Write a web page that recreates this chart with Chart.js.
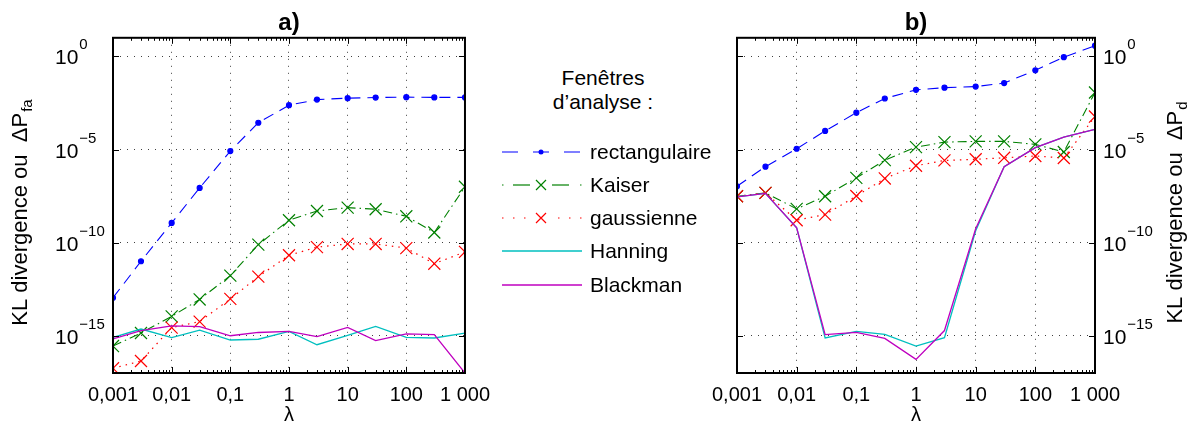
<!DOCTYPE html>
<html>
<head>
<meta charset="utf-8">
<title>KL divergence</title>
<script src="https://cdn.jsdelivr.net/npm/chart.js@4.4.0/dist/chart.umd.min.js"></script>
<style>
  body { margin: 0; background: #fff; width: 1197px; height: 434px; position: relative; overflow: hidden;
         font-family: "Liberation Sans", Arial, Helvetica, sans-serif; color: #000; }
  .pane { position: absolute; top: 0; height: 434px; }
  #paneA { left: 0; width: 500px; }
  #paneB { left: 690px; width: 507px; }
  .hd { position: absolute; left: 603px; transform: translate(-50%, -50%); white-space: nowrap; font-size: 21px; }
  .row { position: absolute; left: 500px; transform: translateY(-50%); display: flex; align-items: center;
         white-space: nowrap; font-size: 21px; }
  .row svg { display: block; margin-right: 6px; }
</style>
</head>
<body>
<div class="pane" id="paneA"><canvas id="chartA"></canvas></div>
<div class="pane" id="paneB"><canvas id="chartB"></canvas></div>

<div class="hd" style="top:78px">Fenêtres</div>
<div class="hd" style="top:102px">d’analyse :</div>
<div class="row" style="top:152px">
  <svg width="84" height="16"><line x1="2" y1="8" x2="82" y2="8" stroke="#0000ff" stroke-width="1.2" stroke-dasharray="16 15"/><circle cx="41" cy="8" r="2.5" fill="#0000ff"/></svg>
  <span>rectangulaire</span>
</div>
<div class="row" style="top:185px">
  <svg width="84" height="16"><g stroke="#008000" stroke-width="1.2"><line x1="2" y1="8" x2="3.5" y2="8"/><line x1="13" y1="8" x2="30" y2="8"/><line x1="52" y1="8" x2="69" y2="8"/><line x1="80" y1="8" x2="81.5" y2="8"/><path d="M36 3 L46 13 M46 3 L36 13" fill="none"/></g></svg>
  <span>Kaiser</span>
</div>
<div class="row" style="top:218px">
  <svg width="84" height="16"><g stroke="#ff0000" stroke-width="1.2"><line x1="2" y1="8" x2="30" y2="8" stroke-dasharray="1.5 9.5"/><line x1="58" y1="8" x2="82" y2="8" stroke-dasharray="1.5 9.5"/><path d="M36 3 L46 13 M46 3 L36 13" fill="none"/></g></svg>
  <span>gaussienne</span>
</div>
<div class="row" style="top:251px">
  <svg width="84" height="16"><line x1="2" y1="8" x2="82" y2="8" stroke="#00bfbf" stroke-width="1.3"/></svg>
  <span>Hanning</span>
</div>
<div class="row" style="top:285px">
  <svg width="84" height="16"><line x1="2" y1="8" x2="82" y2="8" stroke="#bf00bf" stroke-width="1.3"/></svg>
  <span>Blackman</span>
</div>

<script>
// lambda values (x) shared by every series
const lambdas = [0.001, 0.003, 0.01, 0.03, 0.1, 0.3, 1, 3, 10, 30, 100, 300, 1000];
const xTickValues = [0.001, 0.01, 0.1, 1, 10, 100, 1000];
const xTickLabels = ['0,001', '0,01', '0,1', '1', '10', '100', '1 000'];
const yTickValues = [1e-15, 1e-10, 1e-5, 1];
const yTickExponents = ['\u221215', '\u221210', '\u22125', '0'];

// a) KL divergence ou dPfa
const rectA     = [1.1e-13, 1.0e-11, 1.15e-9, 8.7e-8, 8.3e-6, 2.75e-4, 2.4e-3, 4.8e-3, 5.75e-3, 6.2e-3, 6.5e-3, 6.3e-3, 6.3e-3];
const kaiserA   = [2.8e-16, 1.4e-15, 1.1e-14, 8.9e-14, 1.7e-12, 7.8e-11, 1.6e-9, 5.0e-9, 7.6e-9, 6.2e-9, 2.6e-9, 3.5e-10, 1.0e-7];
const gaussA    = [1.8e-17, 4.4e-17, 2.75e-15, 5.75e-15, 9.5e-14, 1.5e-12, 2.1e-11, 5.75e-11, 8.5e-11, 8.5e-11, 5.1e-11, 7.4e-12, 3.2e-11];
const hanningA  = [8.1e-16, 2.3e-15, 7.9e-16, 2.0e-15, 5.9e-16, 6.5e-16, 1.7e-15, 3.3e-16, 1.05e-15, 3.2e-15, 8.1e-16, 7.6e-16, 1.4e-15];
const blackmanA = [6.8e-16, 1.9e-15, 3.4e-15, 3.1e-15, 1.0e-15, 1.5e-15, 1.7e-15, 8.9e-16, 2.8e-15, 5.5e-16, 1.26e-15, 1.15e-15, 1.0e-17];

// b) KL divergence ou dPd
const rectB     = [1.07e-7, 1.2e-6, 1.1e-5, 1.0e-4, 9.5e-4, 5.5e-3, 1.6e-2, 2.1e-2, 2.4e-2, 3.7e-2, 0.18, 0.91, 3.8];
const kaiserB   = [3.1e-8, 4.7e-8, 6.5e-9, 3.1e-8, 3.0e-7, 2.7e-6, 1.35e-5, 2.5e-5, 2.75e-5, 2.75e-5, 1.9e-5, 7.4e-6, 1.15e-2];
const gaussB    = [3.1e-8, 4.7e-8, 1.6e-9, 3.2e-9, 3.2e-8, 2.8e-7, 1.35e-6, 2.6e-6, 3.0e-6, 3.6e-6, 4.5e-6, 3.5e-6, 5.9e-4];
const hanningB  = [2.9e-8, 4.4e-8, 6.2e-10, 7.6e-16, 1.7e-15, 1.2e-15, 2.8e-16, 7.9e-16, 4.3e-10, 1.2e-6, 1.26e-5, 4.6e-5, 1.2e-4];
const blackmanB = [2.9e-8, 4.4e-8, 6.2e-10, 1.15e-15, 1.5e-15, 7.2e-16, 5.4e-17, 1.9e-15, 5.6e-10, 1.2e-6, 1.26e-5, 4.6e-5, 1.2e-4];

const FONT = '"Liberation Sans", Arial, Helvetica, sans-serif';

// box, inner tick marks, 10^n labels and the rotated y title
const framePlugin = {
    id: 'frame',
    afterDraw(chart, args, opts) {
        const ctx = chart.ctx;
        const a = chart.chartArea;
        const x = chart.scales.x, y = chart.scales.y;
        ctx.save();
        ctx.strokeStyle = '#000';
        ctx.lineWidth = 1;
        ctx.beginPath();
        for (let d = -3; d < 3; d++) {
            for (let m = 1; m < 10; m++) {
                const px = Math.round(x.getPixelForValue(m * Math.pow(10, d))) + 0.5;
                const len = m === 1 ? 6 : 3;
                ctx.moveTo(px, a.bottom); ctx.lineTo(px, a.bottom - len);
                ctx.moveTo(px, a.top); ctx.lineTo(px, a.top + len);
            }
        }
        yTickValues.forEach(v => {
            const py = Math.round(y.getPixelForValue(v)) + 0.5;
            ctx.moveTo(a.left, py); ctx.lineTo(a.left + 6, py);
            ctx.moveTo(a.right, py); ctx.lineTo(a.right - 6, py);
        });
        ctx.stroke();
        ctx.lineWidth = 2;
        ctx.strokeRect(a.left, a.top, a.right - a.left, a.bottom - a.top);

        // y tick labels
        ctx.fillStyle = '#000';
        ctx.textAlign = 'left';
        ctx.textBaseline = 'alphabetic';
        yTickValues.forEach((v, i) => {
            const py = y.getPixelForValue(v);
            ctx.font = '21px ' + FONT;
            ctx.fillText('10', opts.labelX, py + 8);
            const w = ctx.measureText('10').width;
            ctx.font = '15px ' + FONT;
            ctx.fillText(yTickExponents[i], opts.labelX + w + 1, py - 7);
        });

        // rotated title with subscript
        const main = 'KL divergence ou  \u0394P';
        ctx.font = '22px ' + FONT;
        const wMain = ctx.measureText(main).width;
        ctx.font = '15px ' + FONT;
        const wSub = ctx.measureText(opts.sub).width;
        const start = -(wMain + wSub) / 2;
        ctx.translate(opts.titleX, opts.titleY);
        ctx.rotate(-Math.PI / 2);
        ctx.font = '22px ' + FONT;
        ctx.fillText(main, start, 0);
        ctx.font = '15px ' + FONT;
        ctx.fillText(opts.sub, start + wMain + 1, 5);
        ctx.restore();
    }
};

function makeChart(canvasId, title, side, series, frameOpts, pad, axisWidth) {
    const styles = [
        { label: 'rectangulaire', color: '#0000ff', dash: [11, 7], pointStyle: 'circle', radius: 2.5, width: 1.1, order: 5 },
        { label: 'Kaiser', color: '#008000', dash: [9, 4, 1.5, 4], pointStyle: 'crossRot', radius: 8.5, width: 1.1, order: 4 },
        { label: 'gaussienne', color: '#ff0000', dash: [1.5, 5], pointStyle: 'crossRot', radius: 8.5, width: 1.2, order: 3 },
        { label: 'Hanning', color: '#00bfbf', dash: [], pointStyle: false, radius: 0, width: 1.3, order: 2 },
        { label: 'Blackman', color: '#bf00bf', dash: [], pointStyle: false, radius: 0, width: 1.3, order: 1 }
    ];
    const datasets = styles.map((s, k) => ({
        label: s.label,
        data: lambdas.map((lx, i) => ({ x: lx, y: series[k][i] })),
        borderColor: s.color,
        backgroundColor: s.color,
        borderWidth: s.width,
        borderDash: s.dash,
        pointStyle: s.pointStyle,
        pointRadius: s.radius,
        pointHoverRadius: s.radius,
        pointBorderWidth: 1.2,
        pointBorderColor: s.color,
        pointBackgroundColor: s.color,
        tension: 0,
        order: s.order
    }));

    return new Chart(document.getElementById(canvasId), {
        type: 'line',
        data: { datasets: datasets },
        options: {
            responsive: true,
            maintainAspectRatio: false,
            animation: false,
            events: [],
            layout: { padding: pad },
            plugins: {
                legend: { display: false },
                tooltip: { enabled: false },
                title: {
                    display: true,
                    text: title,
                    fullSize: false,
                    color: '#000',
                    font: { family: FONT, size: 24, weight: 'bold' },
                    padding: { top: 9, bottom: 0 }
                },
                frame: frameOpts
            },
            scales: {
                x: {
                    type: 'logarithmic',
                    min: 0.001,
                    max: 1000,
                    afterBuildTicks: scale => { scale.ticks = xTickValues.map(v => ({ value: v })); },
                    afterFit: scale => { scale.height = 61; },
                    ticks: {
                        autoSkip: false,
                        maxRotation: 0,
                        padding: 10,
                        color: '#000',
                        font: { family: FONT, size: 20 },
                        callback: (value, index) => xTickLabels[index]
                    },
                    grid: { color: 'rgba(0,0,0,0.75)', lineWidth: 1, drawTicks: false },
                    border: { display: false, dash: [1, 6] },
                    title: {
                        display: true,
                        text: '\u03bb',
                        color: '#000',
                        font: { family: FONT, size: 20 },
                        padding: { top: 0, bottom: 7 }
                    }
                },
                y: {
                    type: 'logarithmic',
                    position: side,
                    min: 1e-17,
                    max: 10,
                    afterBuildTicks: scale => { scale.ticks = yTickValues.map(v => ({ value: v })); },
                    afterFit: scale => { scale.width = axisWidth; },
                    ticks: { display: false },
                    grid: { color: 'rgba(0,0,0,0.75)', lineWidth: 1, drawTicks: false },
                    border: { display: false, dash: [1, 6] }
                }
            }
        },
        plugins: [framePlugin]
    });
}

makeChart('chartA', 'a)', 'left',
    [rectA, kaiserA, gaussA, hanningA, blackmanA],
    { labelX: 55, titleX: 27, titleY: 213, sub: 'fa' },
    { left: 0, right: 31, top: 0, bottom: 0 }, 113);

makeChart('chartB', 'b)', 'right',
    [rectB, kaiserB, gaussB, hanningB, blackmanB],
    { labelX: 413, titleX: 492, titleY: 213, sub: 'd' },
    { left: 47, right: 0, top: 0, bottom: 0 }, 102);
</script>
</body>
</html>
